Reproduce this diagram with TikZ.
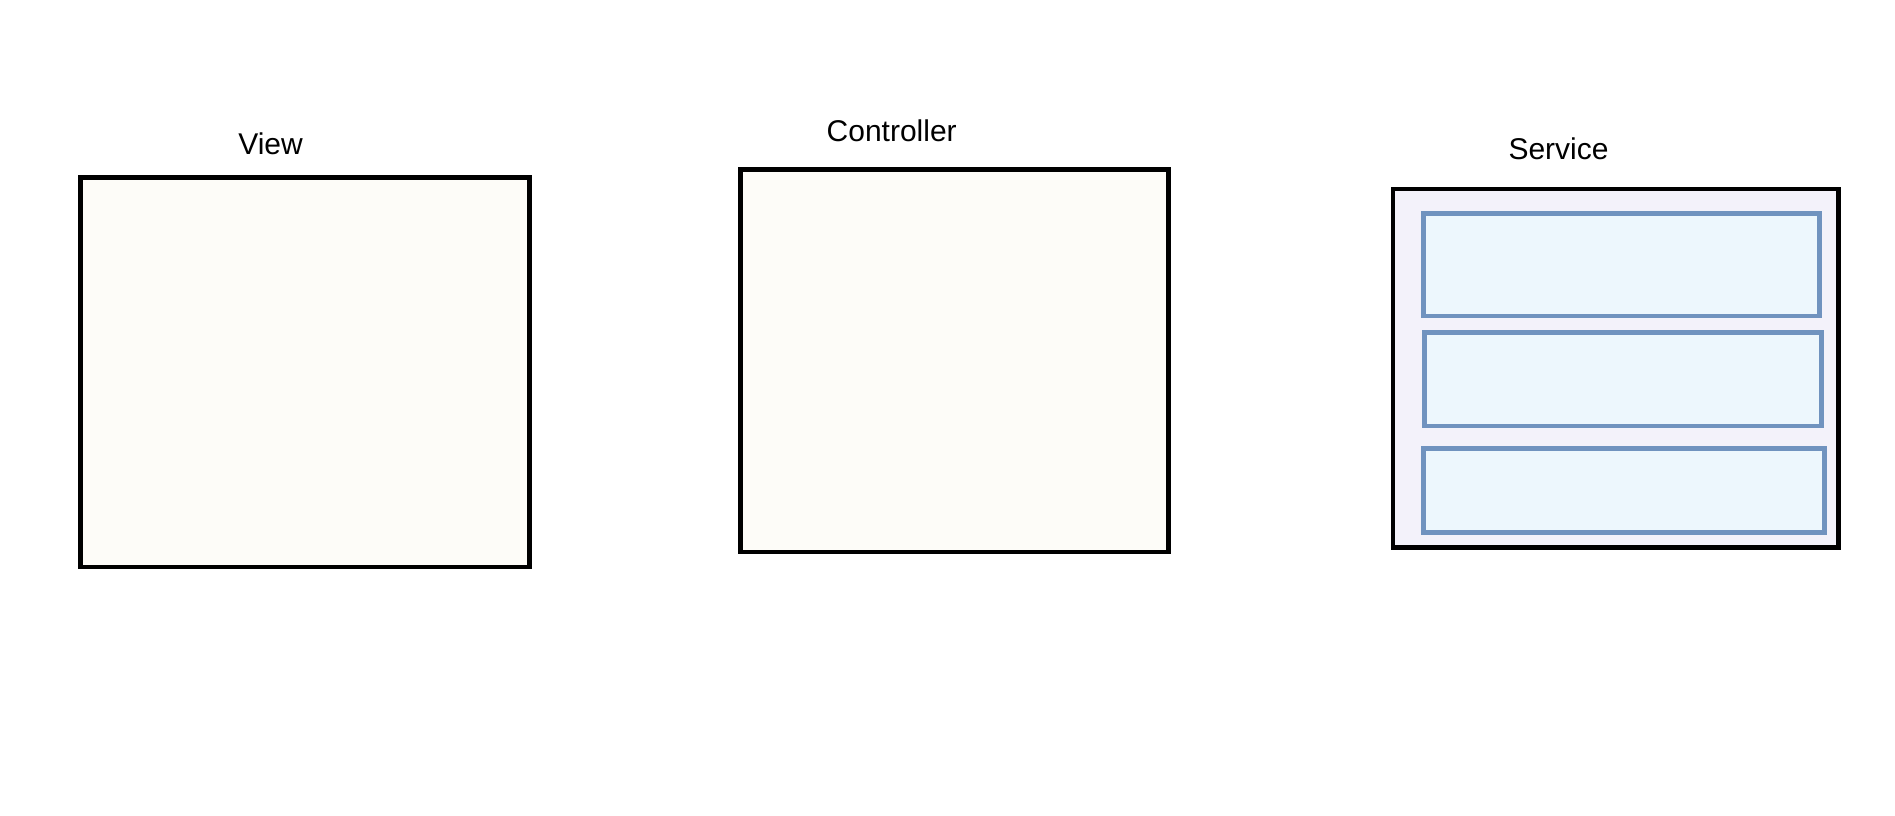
\documentclass[tikz,border=0pt]{standalone}
\usepackage{fontspec}
\setmainfont{Liberation Sans}
\definecolor{creamfill}{HTML}{FDFCF8}
\definecolor{svcfill}{HTML}{F3F2FA}
\definecolor{innerfill}{HTML}{EDF7FD}
\definecolor{innerdraw}{HTML}{7093BF}
\tikzset{
  bigbox/.style={draw=black, line width=4.7pt, inner sep=0pt, outer sep=0pt, anchor=north west},
  layerbox/.style={draw=innerdraw, line width=4.7pt, fill=innerfill, inner sep=0pt, outer sep=0pt, anchor=north west},
  lbl/.style={font=\fontsize{30pt}{36pt}\selectfont, anchor=base, inner sep=0pt}
}
\begin{document}
\begin{tikzpicture}[x=1pt, y=-1pt]
\useasboundingbox[fill=white] (0,0) rectangle (1895,815);
% View
\node[bigbox, fill=creamfill, minimum width=449.1pt, minimum height=389.7pt] (view) at (80.2,177.3) {};
\node[lbl] (viewlbl) at (270.6,154.3) {View};
% Controller
\node[bigbox, fill=creamfill, minimum width=428pt, minimum height=382.7pt] (ctrl) at (740.3,169.3) {};
\node[lbl] (ctrllbl) at (891.7,141.7) {Controller};
% Service
\node[bigbox, fill=svcfill, minimum width=445.7pt, minimum height=358.7pt] (svc) at (1393,189) {};
\node[lbl] (svclbl) at (1558.5,159.3) {Service};
\node[layerbox, minimum width=396pt, minimum height=102.4pt] (layer1) at (1423.3,213.6) {};
\node[layerbox, minimum width=396.6pt, minimum height=93.3pt] (layer2) at (1424.7,332.7) {};
\node[layerbox, minimum width=401pt, minimum height=84pt] (layer3) at (1423.3,448.3) {};
\end{tikzpicture}
\end{document}
